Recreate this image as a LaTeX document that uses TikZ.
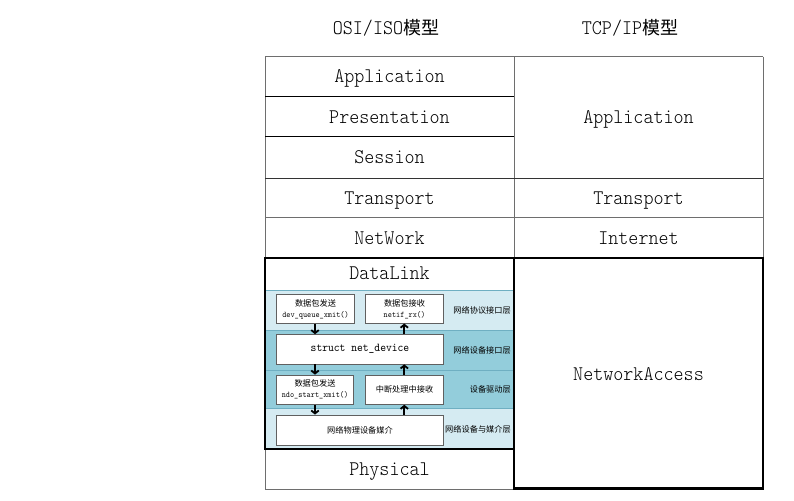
\documentclass[tikz,border=0pt]{standalone}
\usepackage{fontspec}
\usetikzlibrary{arrows.meta}
\newfontfamily\lat{lmmonolt10-regular}[Extension=.otf, FakeStretch=0.92]
\newfontfamily\latsm{lmmono10-regular}[Extension=.otf, FakeStretch=0.92]
\newfontfamily\cjk{Noto Sans CJK SC}
\definecolor{lightband}{HTML}{D5EBF2}
\definecolor{darkband}{HTML}{93CDDB}
\definecolor{bandline}{HTML}{6FAFC2}
\definecolor{gridgray}{HTML}{6E6E6E}
\newcommand{\bigcjk}{\cjk\fontsize{18}{20}\selectfont}
\newcommand{\biglat}{\lat\fontsize{20.8}{24}\selectfont}
\newcommand{\smcjk}{\cjk\fontsize{8.2}{10}\selectfont}
\newcommand{\smlat}{\latsm\fontsize{8.6}{10}\selectfont}
\tikzset{
  cell/.style={font=\biglat, inner sep=0pt, anchor=base},
  headtxt/.style={inner sep=0pt, anchor=base},
  thinline/.style={draw=gridgray, line width=0.9pt},
  darkline/.style={draw=black, line width=1.4pt},
  thickbox/.style={draw=black, line width=2.6pt},
  box/.style={draw=gray!75!black, fill=white, line width=0.8pt, inner sep=0pt, align=center},
  side/.style={font=\smcjk, anchor=east, inner sep=0pt},
  arr/.style={line width=1.8pt, -{Straight Barb[length=3pt,width=7.5pt]}},
}
\begin{document}
\begin{tikzpicture}[x=1pt,y=-1pt]
\useasboundingbox (0,0) rectangle (794,500);
\fill[white] (0,0) rectangle (794,500);

% headers
\node[headtxt] (hosi) at (386,35) {\biglat OSI/ISO\bigcjk 模型};
\node[headtxt] (htcp) at (630,35) {\biglat TCP/IP\bigcjk 模型};

% data link bands
\fill[lightband] (265,290.7) rectangle (513,330.7);
\fill[darkband] (265,330.7) rectangle (513,370);
\fill[darkband] (265,370) rectangle (513,408.3);
\fill[lightband] (265,408.3) rectangle (513,448.5);
\draw[bandline, line width=0.6pt] (265,290.7) -- (513,290.7);
\draw[bandline, line width=0.6pt] (265,330.7) -- (513,330.7);
\draw[bandline, line width=0.6pt] (265,370) -- (513,370);
\draw[bandline, line width=0.6pt] (265,408.3) -- (513,408.3);

% table grid
\draw[thinline] (265,56.7) -- (763,56.7);
\draw[thinline] (265,56.7) -- (265,489);
\draw[thinline] (514,56.7) -- (514,258);
\draw[thinline] (763,56.7) -- (763,258);
\draw[darkline] (265,96.7) -- (514,96.7);
\draw[darkline] (265,136.7) -- (514,136.7);
\draw[thinline, draw=black!80] (265,178.3) -- (763,178.3);
\draw[thinline] (265,217.6) -- (763,217.6);
\draw[thinline] (265,489) -- (514,489);

% thick boxes
\draw[thickbox] (265,257.8) rectangle (514,449);
\draw[thickbox] (514,257.8) rectangle (763,488.5);

% cell texts (base lines)
\node[cell] (app)   at (389.5,83)  {Application};
\node[cell] (pres)  at (389.5,123.5) {Presentation};
\node[cell] (sess)  at (389.5,163.5) {Session};
\node[cell] (trans) at (389.5,204.3) {Transport};
\node[cell] (net)   at (389.5,244) {NetWork};
\node[cell] (dl)    at (389.5,279) {DataLink};
\node[cell] (phys)  at (389.5,475.5) {Physical};
\node[cell] (tapp)  at (638.5,123.5) {Application};
\node[cell] (ttrans) at (638.5,204.3) {Transport};
\node[cell] (tint)  at (638.5,244) {Internet};
\node[cell] (tacc)  at (638.5,380) {NetworkAccess};

% inner boxes
\node[box, minimum width=77.6pt, minimum height=28.3pt] (b1) at (315.5,309)
  {\smcjk 数据包发送\\[-1pt]\smlat dev\_queue\_xmit()};
\node[box, minimum width=77.6pt, minimum height=28.3pt] (b2) at (404.5,309)
  {\smcjk 数据包接收\\[-1pt]\smlat netif\_rx()};
\node[box, minimum width=166.6pt, minimum height=29.3pt, font=\latsm\fontsize{12}{14}\selectfont] (b3) at (360,349.3)
  {struct net\_device};
\node[box, minimum width=76.6pt, minimum height=29.3pt] (b4) at (315,389.7)
  {\smcjk 数据包发送\\[-1pt]\smlat ndo\_start\_xmit()};
\node[box, minimum width=77.6pt, minimum height=29.3pt, font=\smcjk] (b5) at (404.5,389.7)
  {中断处理中接收};
\node[box, minimum width=166.6pt, minimum height=30pt, font=\smcjk] (b6) at (360,430)
  {网络物理设备媒介};

% side labels
\node[side] (s1) at (511,310.5) {网络协议接口层};
\node[side] (s2) at (511,350) {网络设备接口层};
\node[side] (s3) at (511,389) {设备驱动层};
\node[side] (s4) at (511,429) {网络设备与媒介层};

% arrows
\draw[arr] (b1.south -| 315,0) -- (b3.north -| 315,0);
\draw[arr] (b3.south -| 315,0) -- (b4.north -| 315,0);
\draw[arr] (b4.south -| 315,0) -- (b6.north -| 315,0);
\draw[arr] (b6.north -| 404.3,0) -- (b5.south -| 404.3,0);
\draw[arr] (b5.north -| 404.3,0) -- (b3.south -| 404.3,0);
\draw[arr] (b3.north -| 404.3,0) -- (b2.south -| 404.3,0);
\end{tikzpicture}
\end{document}
